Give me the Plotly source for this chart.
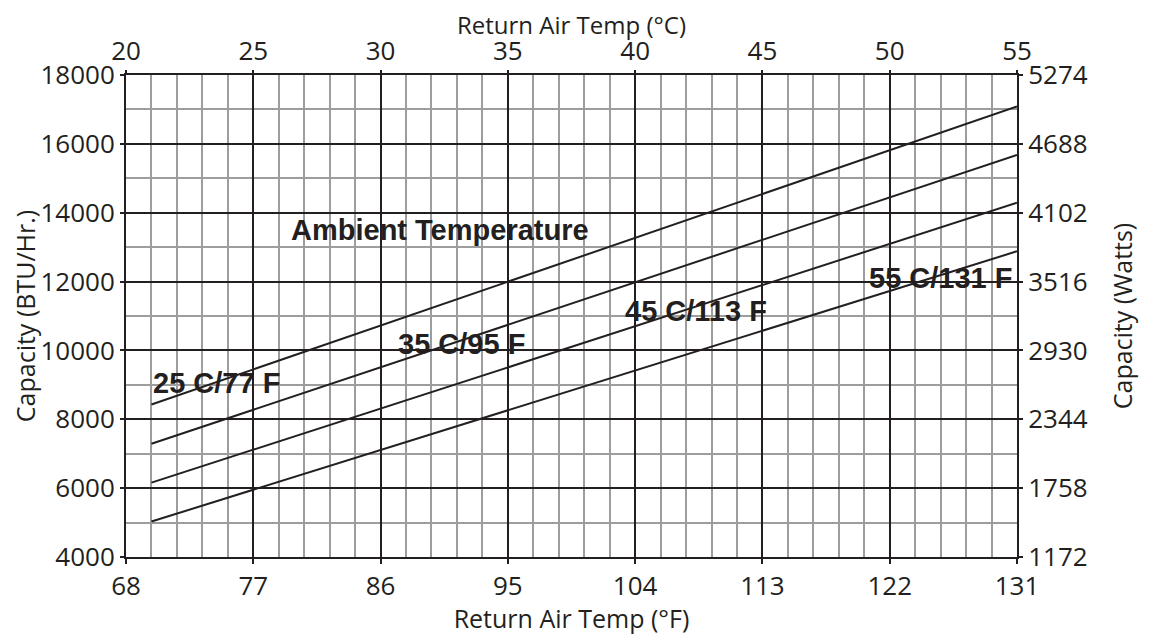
import plotly.graph_objects as go

# Return air temperature (°F) at the ends of each curve
return_air_f = [69.8, 131.0]
# Capacity (BTU/Hr.) for each ambient temperature curve
cap_25c = [8430, 17090]
cap_35c = [7290, 15680]
cap_45c = [6160, 14290]
cap_55c = [5030, 12880]

series = [cap_25c, cap_35c, cap_45c, cap_55c]

# Curve labels and their positions (°F, BTU/Hr.)
label_text = ["25 C/77 F", "35 C/95 F", "45 C/113 F", "55 C/131 F"]
label_x = [74.4, 91.7, 108.3, 125.6]
label_y = [9050, 10190, 11150, 12100]

heading_text = "Ambient Temperature"
heading_x = 90.2
heading_y = 13500

f_ticks = [68, 77, 86, 95, 104, 113, 122, 131]
c_ticks = [20, 25, 30, 35, 40, 45, 50, 55]
btu_ticks = [4000, 6000, 8000, 10000, 12000, 14000, 16000, 18000]
watt_ticks = [1172, 1758, 2344, 2930, 3516, 4102, 4688, 5274]

TICK_FONT = dict(family="'Open Sans', Lato, sans-serif", size=26, color="#231f20")
TITLE_FONT = dict(family="'Open Sans', Lato, sans-serif", size=25, color="#231f20")
TOP_TITLE_FONT = dict(family="'Open Sans', Lato, sans-serif", size=24, color="#231f20")
LABEL_FONT = dict(family="'Liberation Sans', Arial, sans-serif", size=29, color="#231f20")

fig = go.Figure()
for s in series:
    fig.add_trace(go.Scatter(x=return_air_f, y=s, mode="lines",
                             line=dict(color="#231f20", width=2),
                             showlegend=False, hoverinfo="skip"))

# invisible trace to anchor the secondary (°C / Watts) axes
fig.add_trace(go.Scatter(x=[c_ticks[0], c_ticks[-1]], y=[watt_ticks[0], watt_ticks[-1]],
                         xaxis="x2", yaxis="y2", mode="markers",
                         marker=dict(opacity=0), showlegend=False, hoverinfo="skip"))

minor_f = [68 + 1.8 * i for i in range(36)]

# the page body adds an 8px offset; figure sized to fit the 1151x635 window
fig.update_layout(
    width=1143, height=627,
    margin=dict(l=118, r=134, t=67, b=78),
    paper_bgcolor="white", plot_bgcolor="white",
    showlegend=False,
    xaxis=dict(
        range=[68, 131], tickvals=f_ticks, ticktext=[str(v) for v in f_ticks],
        showgrid=True, gridcolor="#231f20", gridwidth=2,
        minor=dict(tickvals=minor_f, showgrid=True, gridcolor="#9d9d9d", gridwidth=1.5, ticks=""),
        showline=True, linecolor="#231f20", linewidth=2,
        ticks="outside", ticklen=5, tickcolor="#231f20", tickwidth=1.5,
        tickfont=TICK_FONT, zeroline=False, automargin=False,
        title=dict(text="Return Air Temp (°F)", font=TITLE_FONT, standoff=3),
    ),
    yaxis=dict(
        range=[4000, 18000], tickvals=btu_ticks, ticktext=[str(v) for v in btu_ticks],
        showgrid=True, gridcolor="#231f20", gridwidth=2,
        minor=dict(dtick=1000, showgrid=True, gridcolor="#9d9d9d", gridwidth=1.5, ticks=""),
        showline=True, linecolor="#231f20", linewidth=2,
        ticks="outside", ticklen=4, tickcolor="#231f20", tickwidth=1.5,
        tickfont=TICK_FONT, zeroline=False, automargin=False,
        title=dict(text="Capacity (BTU/Hr.)", font=TITLE_FONT, standoff=6),
    ),
    xaxis2=dict(
        overlaying="x", side="top", range=[20, 55], tickvals=c_ticks,
        showgrid=False, showline=True, linecolor="#231f20", linewidth=2,
        ticks="outside", ticklen=3, tickcolor="#231f20", tickwidth=1.5,
        tickfont=TICK_FONT, zeroline=False, automargin=False,
    ),
    yaxis2=dict(
        overlaying="y", side="right", range=[1172, 5274], tickvals=watt_ticks,
        ticktext=[str(v) for v in watt_ticks],
        showgrid=False, showline=True, linecolor="#231f20", linewidth=2,
        ticks="outside", ticklen=4, tickcolor="#231f20", tickwidth=1.5,
        tickfont=TICK_FONT, zeroline=False, automargin=False,
        title=dict(text="Capacity (Watts)", font=TITLE_FONT, standoff=28),
    ),
)

# top axis title placed above the °C tick labels
fig.add_annotation(x=0.5, y=1, xref="paper", yref="paper", text="Return Air Temp (°C)",
                   showarrow=False, font=TOP_TITLE_FONT, xanchor="center", yanchor="middle",
                   yshift=51)

for t, x, y in zip(label_text, label_x, label_y):
    fig.add_annotation(x=x, y=y, xref="x", yref="y", text="<b>%s</b>" % t,
                       showarrow=False, font=LABEL_FONT, xanchor="center", yanchor="middle")

fig.add_annotation(x=heading_x, y=heading_y, xref="x", yref="y", text="<b>%s</b>" % heading_text,
                   showarrow=False, font=LABEL_FONT, xanchor="center", yanchor="middle")

fig.write_html("out.html")
